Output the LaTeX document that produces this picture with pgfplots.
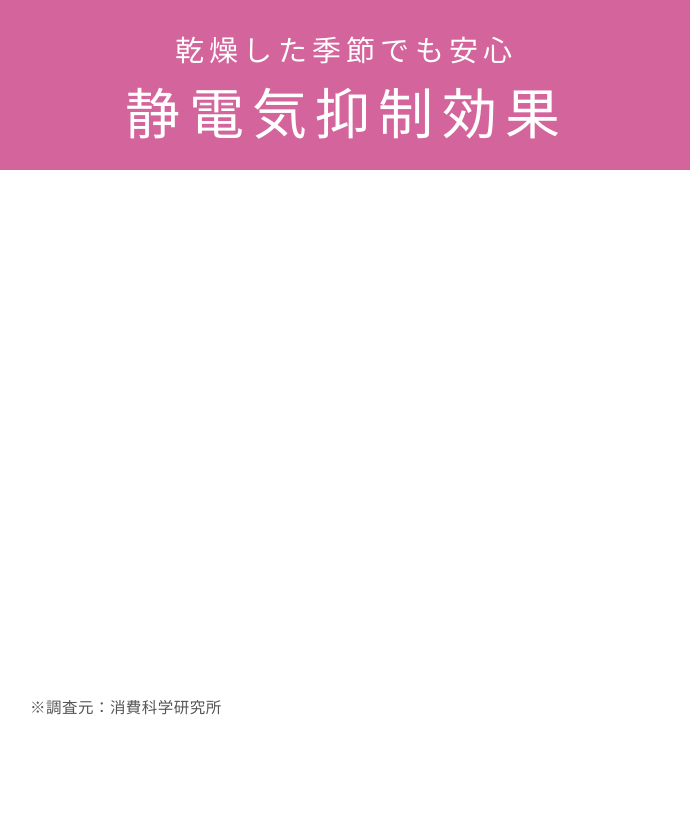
\documentclass[border=0pt]{standalone}
\usepackage{pgfplots}
\pgfplotsset{compat=1.18}
\usepackage{fontspec}
\newfontfamily\cjkA[LetterSpace=18]{Noto Sans CJK JP}
\newfontfamily\cjkB[LetterSpace=15]{Noto Sans CJK JP}
\newfontfamily\cjkC[LetterSpace=3]{Noto Sans CJK JP}
\definecolor{headpink}{HTML}{D4649C}
\definecolor{notegray}{HTML}{555555}
\begin{document}
\begin{tikzpicture}[x=1pt,y=1pt]
\path[use as bounding box] (0,0) rectangle (690,840);
\fill[white] (0,0) rectangle (690,840);
\fill[headpink] (0,670) rectangle (690,840);
\node[text=white,inner sep=0pt,anchor=center] at (344,790) {\cjkA\fontsize{29}{31}\selectfont 乾燥した季節でも安心};
\node[text=white,inner sep=0pt,anchor=center] at (343,726) {\cjkB\fontsize{55}{58}\selectfont 静電気抑制効果};
\node[text=notegray,inner sep=0pt,anchor=west] at (30,132) {\cjkC\fontsize{15.5}{17}\selectfont ※調査元：消費科学研究所};
\begin{axis}[at={(40,160)},anchor=south west,width=610pt,height=490pt,scale only axis,
  hide axis,xmin=0,xmax=1,ymin=0,ymax=1]
\end{axis}
\end{tikzpicture}
\end{document}
